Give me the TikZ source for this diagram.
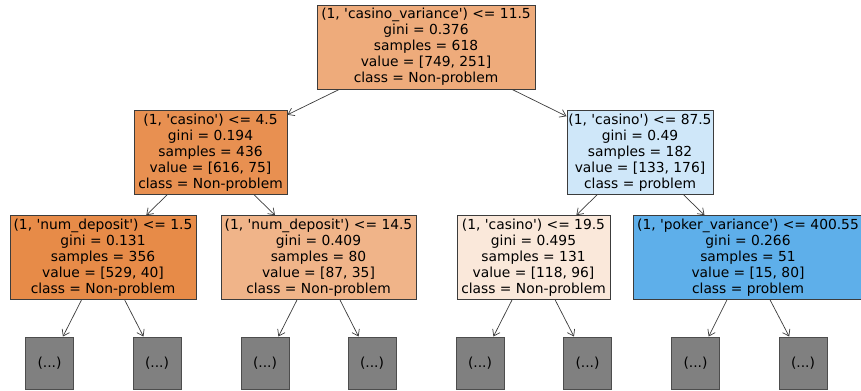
\documentclass[tikz,border=0pt]{standalone}
\usepackage{fontspec}
\setmainfont{DejaVu Sans}
\usepackage{xcolor}
\usepackage{tikz}
\usetikzlibrary{arrows.meta, positioning}

\definecolor{rootcol}{RGB}{238,171,123}
\definecolor{casinoA}{RGB}{232,144,81}
\definecolor{casinoB}{RGB}{207,231,249}
\definecolor{depositA}{RGB}{231,139,72}
\definecolor{depositB}{RGB}{240,180,137}
\definecolor{casinoC}{RGB}{250,232,218}
\definecolor{pokerA}{RGB}{94,175,234}
\definecolor{leafcol}{RGB}{128,128,128}
\definecolor{edgecol}{RGB}{60,60,60}

\newcommand{\sq}{\textquotesingle}

\tikzstyle{arrow} = [draw=edgecol, line width=0.6pt, ->, >={Straight Barb[length=5pt, width=7pt]}]
\tikzstyle{split} = [rectangle, minimum height=2.52cm, inner sep=0pt, text centered, align=center, draw=edgecol, line width=0.8pt, font=\fontsize{11.8}{13.66}\selectfont]
\tikzstyle{leaf} = [rectangle, minimum width=1.44cm, minimum height=1.56cm, inner sep=0pt, text centered, draw={rgb,255:red,77;green,77;blue,77}, line width=0.8pt, fill=leafcol, font=\fontsize{11.8}{13.66}\selectfont]

\begin{document}
\begin{tikzpicture}[node distance=3.16cm]

\clip (0,0) rectangle (25.83,-11.73);

% Root split
\node (root) [split, fill=rootcol, minimum width=6.54cm] at (12.78,-1.41) {(1, \sq casino\_variance\sq) <= 11.5\\gini = 0.376\\samples = 618\\value = [749, 251]\\class = Non-problem};

% Depth 1
\node (casino_lo) [split, fill=casinoA, minimum width=4.59cm, below of=root, xshift=-6.465cm] {(1, \sq casino\sq) <= 4.5\\gini = 0.194\\samples = 436\\value = [616, 75]\\class = Non-problem};
\node (casino_hi) [split, fill=casinoB, minimum width=4.38cm, below of=root, xshift=6.42cm] {(1, \sq casino\sq) <= 87.5\\gini = 0.49\\samples = 182\\value = [133, 176]\\class = problem};

% Depth 2
\node (deposit_lo) [split, fill=depositA, minimum width=5.58cm, below of=casino_lo, xshift=-3.225cm] {(1, \sq num\_deposit\sq) <= 1.5\\gini = 0.131\\samples = 356\\value = [529, 40]\\class = Non-problem};
\node (deposit_hi) [split, fill=depositB, minimum width=5.85cm, below of=casino_lo, xshift=3.24cm] {(1, \sq num\_deposit\sq) <= 14.5\\gini = 0.409\\samples = 80\\value = [87, 35]\\class = Non-problem};
\node (casino_mid) [split, fill=casinoC, minimum width=4.59cm, below of=casino_hi, xshift=-3.195cm] {(1, \sq casino\sq) <= 19.5\\gini = 0.495\\samples = 131\\value = [118, 96]\\class = Non-problem};
\node (poker) [split, fill=pokerA, minimum width=6.9cm, below of=casino_hi, xshift=3.24cm] {(1, \sq poker\_variance\sq) <= 400.55\\gini = 0.266\\samples = 51\\value = [15, 80]\\class = problem};

% Truncated leaves
\node (leaf1) [leaf, below of=deposit_lo, xshift=-1.605cm] {(...)};
\node (leaf2) [leaf, below of=deposit_lo, xshift=1.62cm] {(...)};
\node (leaf3) [leaf, below of=deposit_hi, xshift=-1.605cm] {(...)};
\node (leaf4) [leaf, below of=deposit_hi, xshift=1.605cm] {(...)};
\node (leaf5) [leaf, below of=casino_mid, xshift=-1.605cm] {(...)};
\node (leaf6) [leaf, below of=casino_mid, xshift=1.62cm] {(...)};
\node (leaf7) [leaf, below of=poker, xshift=-1.575cm] {(...)};
\node (leaf8) [leaf, below of=poker, xshift=1.65cm] {(...)};

% Connections
\draw [arrow] (root) -- (casino_lo);
\draw [arrow] (root) -- (casino_hi);
\draw [arrow] (casino_lo) -- (deposit_lo);
\draw [arrow] (casino_lo) -- (deposit_hi);
\draw [arrow] (casino_hi) -- (casino_mid);
\draw [arrow] (casino_hi) -- (poker);
\draw [arrow] (deposit_lo) -- (leaf1);
\draw [arrow] (deposit_lo) -- (leaf2);
\draw [arrow] (deposit_hi) -- (leaf3);
\draw [arrow] (deposit_hi) -- (leaf4);
\draw [arrow] (casino_mid) -- (leaf5);
\draw [arrow] (casino_mid) -- (leaf6);
\draw [arrow] (poker) -- (leaf7);
\draw [arrow] (poker) -- (leaf8);

\end{tikzpicture}
\end{document}
